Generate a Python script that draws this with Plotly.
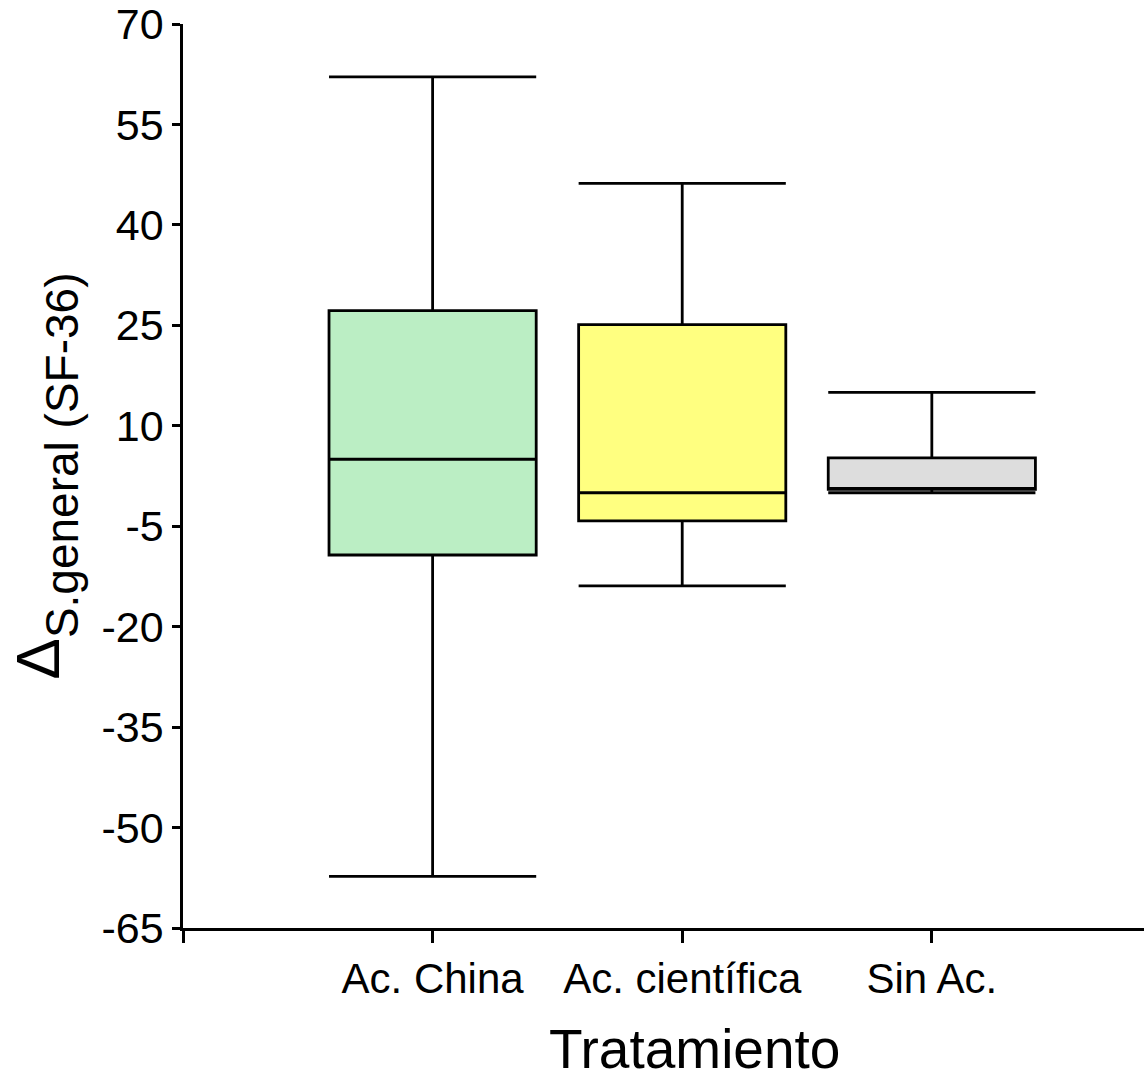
import plotly.graph_objects as go

categories = ["Ac. China", "Ac. científica", "Sin Ac."]
upper = [62.1, 46.2, 15.0]
q3 = [27.2, 25.1, 5.2]
median = [5.0, 0.0, 0.5]
q1 = [-9.3, -4.2, 0.5]
lower = [-57.3, -13.9, 0.0]
fills = ["#BBEEC4", "#FFFF80", "#DDDDDD"]
y_ticks = [70, 55, 40, 25, 10, -5, -20, -35, -50, -65]

fig = go.Figure()
for i, cat in enumerate(categories):
    fig.add_trace(go.Box(
        x=[i], q1=[q1[i]], median=[median[i]], q3=[q3[i]],
        lowerfence=[lower[i]], upperfence=[upper[i]],
        width=0.83, whiskerwidth=1,
        fillcolor=fills[i], line=dict(color="black", width=2.8),
        boxpoints=False, name=cat, showlegend=False, hoverinfo="skip"))

font = "Liberation Sans, Arial, sans-serif"
fig.update_layout(
    width=1144, height=1081,
    margin=dict(l=183, r=0, t=21, b=153),
    plot_bgcolor="white", paper_bgcolor="white",
    font=dict(family=font, color="black"),
    xaxis=dict(
        range=[-1.0, 2.85], tickvals=[-1, 0, 1, 2], ticktext=[""] + categories,
        showline=True, linecolor="black", linewidth=2.5, mirror=False,
        ticks="outside", ticklen=12, tickwidth=2.5, tickcolor="black",
        showgrid=False, zeroline=False, tickfont=dict(size=42),
        ticklabeloverflow="allow",
    ),
    yaxis=dict(
        range=[-65, 70], tickvals=y_ticks, ticktext=[str(v) for v in y_ticks],
        showline=True, linecolor="black", linewidth=2.5,
        ticks="outside", ticklen=8, tickwidth=2.5, tickcolor="black",
        showgrid=False, zeroline=False, tickfont=dict(size=43),
        ticklabeloverflow="allow",
        title=dict(
            text="<span style='font-size:62px'>Δ</span><sub><span style='font-size:46px'>S.general (SF-36)</span></sub>",
            font=dict(size=90), standoff=12),
    ),
    annotations=[dict(
        text="Tratamiento", xref="x", yref="paper", x=1.05, y=-0.134,
        xanchor="center", yanchor="middle", showarrow=False,
        font=dict(size=55, family=font, color="black"))],
)
fig.write_html("out.html")
